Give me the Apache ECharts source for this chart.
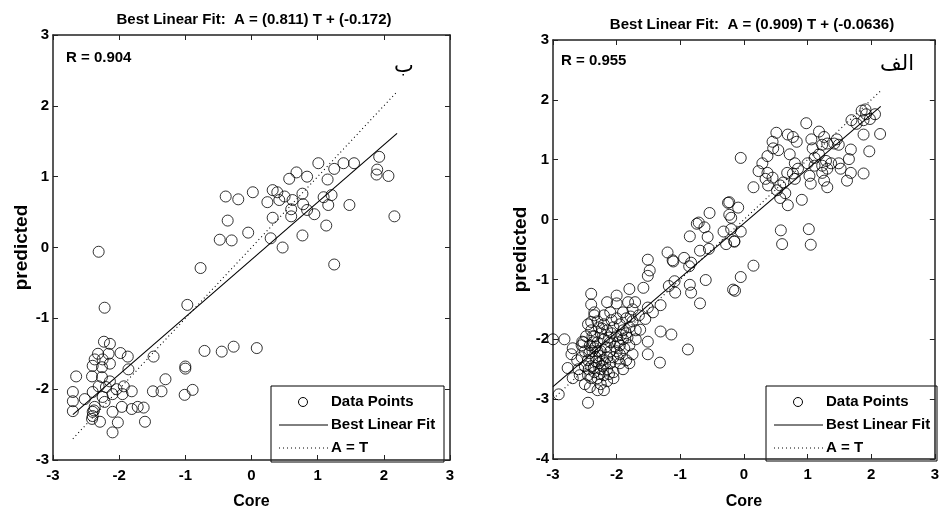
<!DOCTYPE html>
<html><head><meta charset="utf-8">
<script src="https://cdn.jsdelivr.net/npm/echarts@6/dist/echarts.min.js"></script>
<style>html,body{margin:0;padding:0;background:#fff}#c{width:942px;height:515px}</style>
</head><body><div id="c"></div>
<script>
// ---------- data ----------
const leftTitle = 'Best Linear Fit:  A = (0.811) T + (-0.172)';
const rightTitle = 'Best Linear Fit:  A = (0.909) T + (-0.0636)';
const leftR = 'R = 0.904';
const rightR = 'R = 0.955';
const leftTag = 'ب';
const rightTag = 'الف';
const legendNames = ['Data Points', 'Best Linear Fit', 'A = T'];

// [Core, predicted]
const leftPoints = [
  [-0.39,0.72],[-0.20,0.68],[0.02,0.78],[-0.36,0.38],[-0.48,0.11],[-0.30,0.10],[-0.05,0.21],[-2.31,-0.06],
  [1.01,1.19],[1.25,1.11],[1.39,1.19],[1.55,1.19],[1.93,1.28],[1.90,1.10],[1.89,1.03],[2.07,1.01],
  [0.68,1.06],[0.57,0.97],[0.84,1.00],[1.15,0.96],[0.32,0.81],[0.39,0.78],[0.50,0.72],[0.24,0.64],
  [0.42,0.67],[0.62,0.67],[0.77,0.76],[0.78,0.61],[0.60,0.54],[0.84,0.53],[1.09,0.71],[1.21,0.74],
  [1.16,0.60],[0.95,0.47],[1.48,0.60],[0.60,0.44],[0.32,0.42],[1.13,0.31],[2.16,0.44],[0.77,0.17],
  [0.29,0.13],[0.47,0.00],[1.25,-0.24],[0.08,-1.42],[-0.77,-0.29],[-0.97,-0.81],[-2.22,-0.85],
  [-2.23,-1.33],[-2.14,-1.36],[-2.32,-1.50],[-2.16,-1.50],[-2.37,-1.58],[-2.25,-1.58],[-2.40,-1.67],
  [-2.14,-1.64],[-1.98,-1.49],[-1.87,-1.54],[-1.86,-1.72],[-2.26,-1.69],[-2.41,-1.82],[-2.65,-1.82],
  [-2.26,-1.83],[-2.14,-1.89],[-2.31,-1.96],[-2.20,-1.97],[-2.04,-2.00],[-1.93,-1.96],[-1.81,-2.03],
  [-1.95,-2.07],[-2.70,-2.04],[-2.40,-2.04],[-2.25,-2.11],[-2.10,-2.07],[-2.70,-2.17],[-2.52,-2.14],
  [-2.22,-2.18],[-2.37,-2.25],[-2.70,-2.31],[-2.40,-2.32],[-2.10,-2.32],[-1.96,-2.25],[-1.81,-2.28],
  [-1.72,-2.25],[-1.63,-2.26],[-2.41,-2.42],[-2.29,-2.46],[-2.02,-2.47],[-2.10,-2.61],[-1.61,-2.46],
  [-1.49,-2.03],[-1.36,-2.03],[-1.30,-1.86],[-1.00,-1.68],[-1.00,-1.71],[-1.01,-2.08],[-0.89,-2.01],
  [-1.48,-1.54],[-0.71,-1.46],[-0.45,-1.47],[-0.27,-1.40],[-2.40,-2.38],[-2.38,-2.30]
];
const leftFit = [[-2.7,-2.36],[2.2,1.61]];
const leftIdentity = [[-2.7,-2.7],[2.2,2.2]];

const rightPoints = [
  [-1.51,-0.67],[-1.48,-0.85],[-1.20,-0.55],[-1.11,-0.70],[-0.94,-0.64],[-0.83,-0.72],[-0.85,-0.28],
  [-0.74,-0.07],[-0.71,-0.05],[-0.62,-0.13],[-0.57,-0.29],[-0.69,-0.52],[-0.55,-0.49],[-0.54,0.11],
  [-0.32,-0.20],[-0.28,-0.41],[-0.23,0.29],[-0.23,0.08],[-0.20,0.03],[-0.15,-0.36],[-0.05,1.03],
  [0.98,1.61],[0.51,1.45],[0.69,1.42],[0.77,1.38],[0.83,1.30],[0.45,1.30],[0.46,1.19],[0.54,1.16],
  [0.37,1.06],[0.29,0.94],[0.23,0.81],[0.37,0.78],[0.34,0.68],[0.45,0.70],[0.38,0.57],[0.52,0.49],
  [0.57,0.57],[0.62,0.62],[0.68,0.78],[0.72,1.09],[0.80,0.94],[0.85,0.85],[0.77,0.77],[0.80,0.68],
  [0.65,0.44],[0.69,0.24],[0.57,0.36],[0.91,0.33],[0.15,0.54],[1.06,1.34],[1.18,1.47],[1.08,1.19],
  [1.26,1.38],[1.23,1.25],[1.31,1.27],[1.42,1.27],[1.49,1.25],[1.46,1.34],[1.11,1.03],[1.18,1.09],
  [1.00,0.94],[1.11,0.90],[1.23,0.90],[1.29,0.98],[1.37,0.94],[1.23,0.78],[1.31,0.85],[1.03,0.73],
  [1.05,0.60],[1.26,0.65],[1.31,0.54],[1.49,0.94],[1.52,0.85],[1.65,1.01],[1.68,1.17],[1.69,1.66],
  [1.77,1.60],[1.88,1.66],[1.92,1.76],[1.85,1.82],[1.98,1.68],[2.06,1.76],[1.91,1.84],[1.88,1.42],
  [2.14,1.43],[1.97,1.14],[1.68,0.78],[1.62,0.65],[1.88,0.77],[0.58,-0.18],[0.60,-0.41],[1.02,-0.16],
  [1.05,-0.42],[0.15,-0.77],[-0.05,-0.96],[-0.14,-1.19],[-0.09,0.20],[-0.25,0.28],[-0.20,-0.16],
  [-0.05,-0.20],[-0.15,-0.37],
  [-3.00,-2.00],[-2.82,-2.00],[-2.91,-2.92],[-2.45,-3.06],[-2.69,-2.65],[-2.77,-2.48],[-2.71,-2.25],
  [-2.69,-2.15],[-2.54,-2.04],[-2.40,-1.24],[-2.40,-1.42],[-2.35,-1.55],[-2.40,-1.71],[-2.15,-1.38],
  [-2.00,-1.40],[-1.82,-1.38],[-1.71,-1.38],[-2.00,-1.27],[-1.80,-1.16],[-1.58,-1.14],[-1.51,-0.94],
  [-1.12,-0.68],[-0.86,-0.78],[-0.60,-1.01],[-0.85,-1.09],[-0.83,-1.22],[-0.69,-1.40],[-1.09,-1.03],
  [-1.08,-1.22],[-1.18,-1.11],[-1.31,-1.43],[-1.51,-1.47],[-1.55,-1.66],[-1.43,-1.55],[-1.63,-1.84],
  [-1.51,-2.04],[-1.51,-2.25],[-1.31,-1.87],[-1.14,-1.92],[-1.32,-2.39],[-0.88,-2.17],[-0.17,-1.17],
  [-2.45,-1.75],[-2.40,-1.85],[-2.35,-1.95],[-2.30,-2.05],[-2.42,-2.10],[-2.38,-2.20],[-2.33,-2.30],
  [-2.28,-2.40],[-2.45,-2.35],[-2.40,-2.45],[-2.35,-2.55],[-2.30,-2.65],[-2.25,-2.75],[-2.20,-2.60],
  [-2.15,-2.50],[-2.10,-2.40],[-2.05,-2.30],[-2.00,-2.20],[-1.95,-2.10],[-1.90,-2.00],[-1.85,-1.90],
  [-1.80,-1.80],[-1.75,-1.70],[-1.85,-1.65],[-1.95,-1.75],[-2.05,-1.80],[-2.15,-1.85],[-2.25,-1.90],
  [-2.20,-2.00],[-2.10,-2.05],[-2.00,-1.95],[-1.90,-1.85],[-1.80,-2.10],[-1.75,-2.25],[-1.85,-2.35],
  [-1.95,-2.40],[-2.05,-2.55],[-2.15,-2.70],[-2.10,-2.20],[-2.25,-2.20],[-2.30,-1.70],[-2.20,-1.60],
  [-2.10,-1.55],[-2.00,-1.65],[-2.20,-1.75],[-2.35,-1.60],[-2.50,-2.20],[-2.50,-2.45],[-2.55,-2.30],
  [-2.45,-2.60],[-2.30,-2.85],[-2.20,-2.85],[-2.05,-2.65],[-1.90,-2.50],[-1.80,-2.40],[-1.70,-2.00],
  [-1.70,-1.85],[-1.65,-1.60],[-1.75,-1.50],[-1.90,-1.55],[-2.25,-2.50],[-2.35,-2.15],[-2.15,-2.30],
  [-1.95,-2.25],[-2.40,-2.65],[-2.55,-2.10],[-2.60,-2.50],[-2.62,-2.35],[-2.58,-2.60],[-2.50,-2.75],
  [-2.42,-2.80],[-2.30,-2.20],[-1.98,-2.05],[-2.08,-1.90],[-2.18,-2.40],[-1.88,-2.15],[-2.28,-1.80],
  [-2.38,-1.95],[-2.48,-1.95],[-2.52,-2.05],
  [-2.37,-2.05],[-2.33,-2.12],[-2.27,-2.28],[-2.22,-2.35],[-2.17,-2.13],[-2.12,-1.97],[-2.03,-2.12],
  [-1.93,-1.93],[-1.83,-1.97],[-1.78,-1.62],[-2.08,-1.68],[-2.23,-1.82],[-2.32,-2.37],[-2.43,-2.23],
  [-2.36,-2.48],[-2.22,-2.45],[-2.12,-2.58],[-2.27,-2.58],[-2.44,-2.50],[-1.98,-2.32]
];
const rightFit = [[-3.0,-2.79],[2.15,1.89]];
const rightIdentity = [[-3.0,-3.0],[2.15,2.15]];

const leftXRange = [-3, 3], leftYRange = [-3, 3];
const rightXRange = [-3, 3], rightYRange = [-4, 3];

// ---------- chart ----------
const FONT = "'Liberation Sans',Arial,sans-serif";
const AX = '#222';

function axis(grid, pos, range, labels, name, nameGap, nameRot, nameSize) {
  return {
    type: 'value', gridIndex: grid, position: pos, min: range[0], max: range[1], interval: 1,
    axisLine: { show: true, onZero: false, lineStyle: { color: AX, width: 1.5 } },
    axisTick: { show: true, inside: true, length: 5, lineStyle: { color: AX, width: 1 } },
    axisLabel: { show: labels, color: '#000', fontFamily: FONT, fontWeight: 'bold', fontSize: 15,
                 margin: (pos === 'left' ? 4 : 8) },
    splitLine: { show: false },
    name: name || '', nameLocation: 'middle', nameGap: nameGap || 0, nameRotate: nameRot,
    nameTextStyle: { color: '#000', fontFamily: FONT, fontWeight: 'bold', fontSize: nameSize || 16 }
  };
}

const scatterStyle = { color: 'rgba(0,0,0,0)', borderColor: '#000', borderWidth: 1 };
function seriesFor(gi, pts, fit, ident) {
  return [
    { name: legendNames[0], type: 'scatter', xAxisIndex: gi, yAxisIndex: gi, data: pts,
      symbol: 'circle', symbolSize: 11, itemStyle: scatterStyle, z: 3 },
    { name: legendNames[1], type: 'line', xAxisIndex: gi, yAxisIndex: gi, data: fit,
      symbol: 'none', lineStyle: { color: '#000', width: 1.1 }, z: 2 },
    { name: legendNames[2], type: 'line', xAxisIndex: gi, yAxisIndex: gi, data: ident,
      symbol: 'none', lineStyle: { color: '#000', width: 1.1, type: [1, 3] }, z: 2 }
  ];
}

// hand-drawn legend box (decoration only)
function legendBox(x, y, w, h) {
  const txt = { fill: '#000', font: "bold 15px " + FONT, textVerticalAlign: 'middle' };
  const rows = [y + 16, y + 39, y + 62];
  return {
    type: 'group', z: 100, children: [
      { type: 'rect', shape: { x: x, y: y, width: w, height: h }, style: { fill: '#fff', stroke: '#000', lineWidth: 1 } },
      { type: 'circle', shape: { cx: x + 32, cy: rows[0], r: 4.5 }, style: { fill: 'none', stroke: '#000', lineWidth: 1 } },
      { type: 'line', shape: { x1: x + 8, y1: rows[1], x2: x + 57, y2: rows[1] }, style: { stroke: '#000', lineWidth: 1 } },
      { type: 'line', shape: { x1: x + 8, y1: rows[2], x2: x + 57, y2: rows[2] }, style: { stroke: '#000', lineWidth: 1, lineDash: [1, 3] } },
      { type: 'text', x: x + 60, y: rows[0], style: Object.assign({ text: legendNames[0] }, txt) },
      { type: 'text', x: x + 60, y: rows[1], style: Object.assign({ text: legendNames[1] }, txt) },
      { type: 'text', x: x + 60, y: rows[2], style: Object.assign({ text: legendNames[2] }, txt) }
    ]
  };
}

const titleStyle = { color: '#000', fontFamily: FONT, fontWeight: 'bold', fontSize: 15 };
const tagStyle = { color: '#000', fontFamily: "'DejaVu Serif','DejaVu Sans',serif", fontWeight: 'normal', fontSize: 21 };
const option = {
  animation: false,
  backgroundColor: '#fff',
  title: [
    { text: leftTitle, left: 249, top: 7, textAlign: 'center', textStyle: titleStyle },
    { text: rightTitle, left: 747, top: 12, textAlign: 'center', textStyle: titleStyle },
    { text: leftR, left: 66, top: 50, padding: 0, textStyle: titleStyle },
    { text: rightR, left: 561, top: 53, padding: 0, textStyle: titleStyle },
    { text: leftTag, left: 394, top: 56, padding: 0, textStyle: tagStyle },
    { text: rightTag, left: 880, top: 54, padding: 0, textStyle: tagStyle }
  ],
  grid: [
    { left: 53, top: 35, width: 397, height: 433 },
    { left: 553, top: 40, width: 388, height: 430 }
  ],
  xAxis: [
    axis(0, 'bottom', leftXRange, true, 'Core', 34),
    axis(1, 'bottom', rightXRange, true, 'Core', 35),
    axis(0, 'top', leftXRange, false),
    axis(1, 'top', rightXRange, false)
  ],
  yAxis: [
    axis(0, 'left', leftYRange, true, 'predicted', 22, 90, 19),
    axis(1, 'left', rightYRange, true, 'predicted', 23, 90, 19),
    axis(0, 'right', leftYRange, false),
    axis(1, 'right', rightYRange, false)
  ],
  graphic: [legendBox(271, 386, 173, 76), legendBox(766, 386, 171, 75)],
  series: [].concat(seriesFor(0, leftPoints, leftFit, leftIdentity),
                    seriesFor(1, rightPoints, rightFit, rightIdentity))
};
const chart = echarts.init(document.getElementById('c'), null, { renderer: 'canvas' });
chart.setOption(option);
</script>
</body></html>
